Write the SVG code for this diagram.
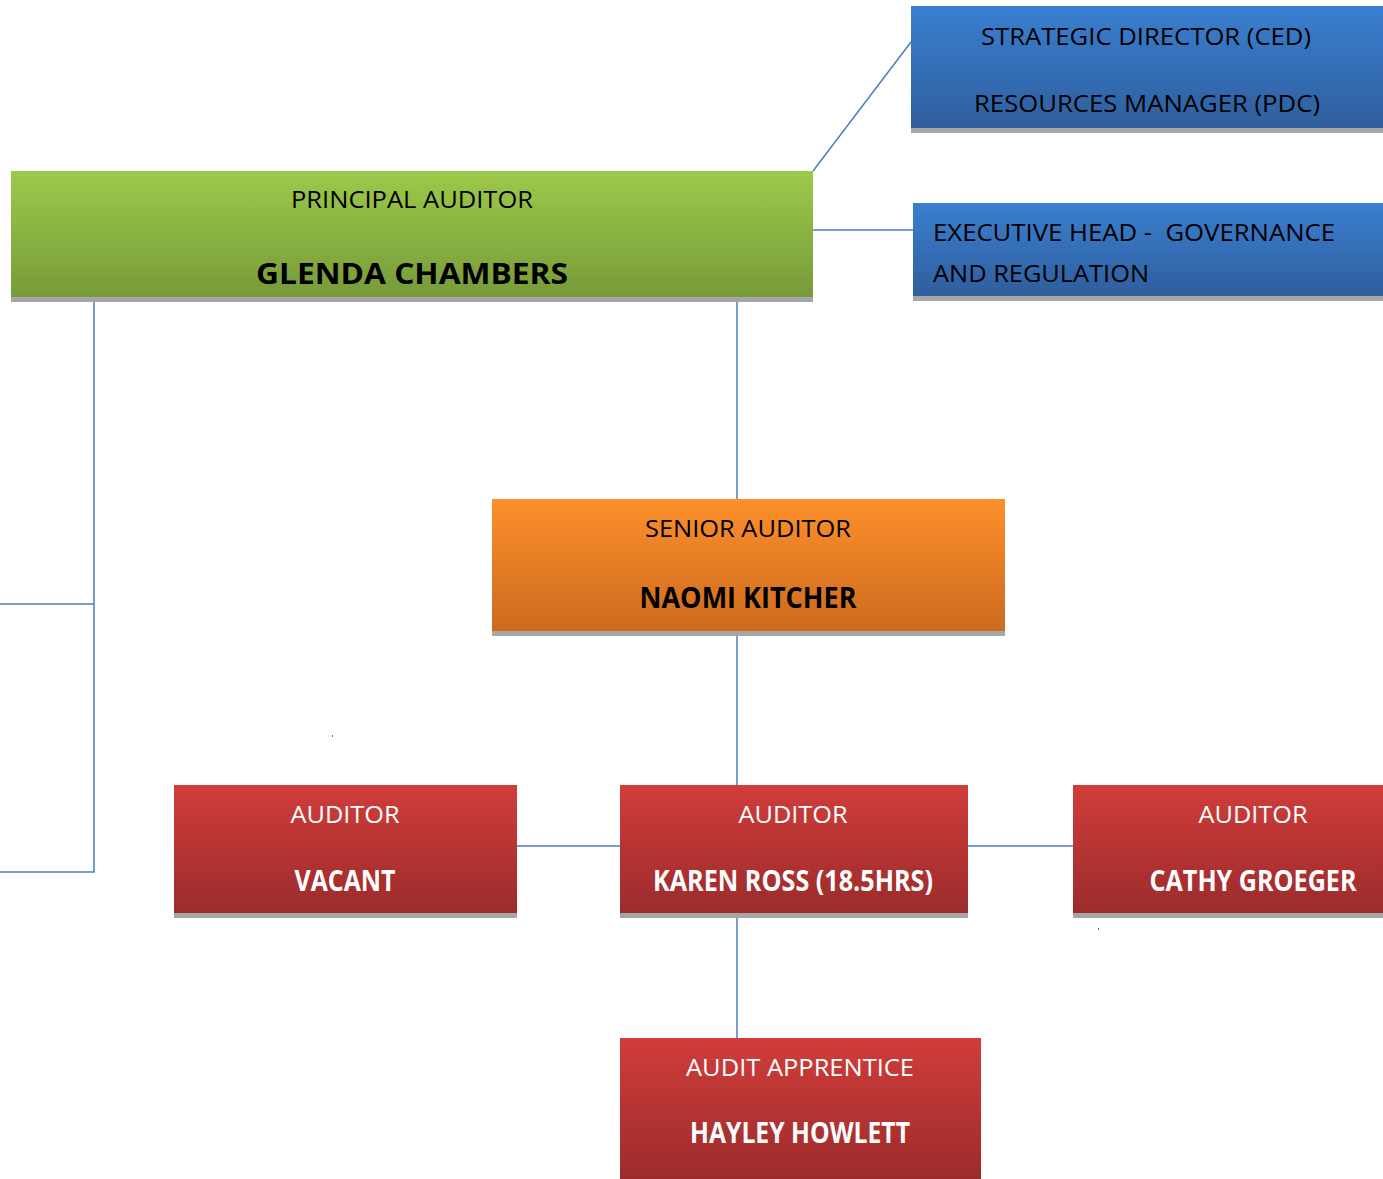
<svg xmlns="http://www.w3.org/2000/svg" width="1383" height="1179" viewBox="0 0 1383 1179">
<style>
text{font-family:"Open Sans","Liberation Sans",sans-serif;text-anchor:middle;white-space:pre}
.r{font-size:24px;fill:#000}
.b{font-size:28px;font-weight:bold;fill:#000}
.w{fill:#fff}
.l{text-anchor:start}
.sh{fill:#a6a6a6}
.cn{stroke:#4a7ebb;stroke-width:1.5;fill:none}
</style>
<defs>
<linearGradient id="gBlue" x1="0" y1="0" x2="0" y2="1"><stop offset="0" stop-color="#3a7fd0"/><stop offset="1" stop-color="#2f5e9d"/></linearGradient>
<linearGradient id="gGreen" x1="0" y1="0" x2="0" y2="1"><stop offset="0" stop-color="#9dc94a"/><stop offset="1" stop-color="#779b39"/></linearGradient>
<linearGradient id="gOrange" x1="0" y1="0" x2="0" y2="1"><stop offset="0" stop-color="#fd902b"/><stop offset="1" stop-color="#cd6a1f"/></linearGradient>
<linearGradient id="gRed" x1="0" y1="0" x2="0" y2="1"><stop offset="0" stop-color="#d03d3a"/><stop offset="1" stop-color="#9c2b2c"/></linearGradient>
</defs>
<rect width="1383" height="1179" fill="#fff"/>
<g id="connectors">
<line class="cn" x1="813" y1="171" x2="911" y2="42"/>
<line class="cn" x1="813" y1="230" x2="913" y2="230"/>
<line class="cn" x1="737" y1="297" x2="737" y2="499"/>
<line class="cn" x1="737" y1="631" x2="737" y2="785"/>
<line class="cn" x1="737" y1="913" x2="737" y2="1038"/>
<line class="cn" x1="517" y1="846" x2="620" y2="846"/>
<line class="cn" x1="968" y1="846" x2="1073" y2="846"/>
<polyline class="cn" points="94,297 94,872 0,872"/>
<line class="cn" x1="0" y1="604" x2="94" y2="604"/>
<rect x="332" y="735" width="1" height="2" fill="#4a7ebb"/>
<rect x="1098" y="928" width="1" height="2" fill="#4a7ebb"/>
</g>
<g id="strategic-director">
<rect class="sh" x="911" y="128" width="472" height="5"/>
<rect x="911" y="6" width="472" height="122" fill="url(#gBlue)"/>
<text class="r" x="1146" y="45" textLength="330" lengthAdjust="spacingAndGlyphs">STRATEGIC DIRECTOR (CED)</text>
<text class="r" x="1147" y="112" textLength="346" lengthAdjust="spacingAndGlyphs">RESOURCES MANAGER (PDC)</text>
</g>
<g id="principal-auditor">
<rect class="sh" x="11" y="297" width="802" height="5"/>
<rect x="11" y="171" width="802" height="126" fill="url(#gGreen)"/>
<text class="r" x="412" y="208" textLength="242" lengthAdjust="spacingAndGlyphs">PRINCIPAL AUDITOR</text>
<text class="b" x="412" y="284" font-size="30" textLength="312" lengthAdjust="spacingAndGlyphs">GLENDA CHAMBERS</text>
</g>
<g id="executive-head">
<rect class="sh" x="913" y="296" width="470" height="5"/>
<rect x="913" y="203" width="470" height="93" fill="url(#gBlue)"/>
<text class="r l" x="933" y="241" textLength="402" lengthAdjust="spacingAndGlyphs">EXECUTIVE HEAD -  GOVERNANCE</text>
<text class="r l" x="933" y="282" textLength="216" lengthAdjust="spacingAndGlyphs">AND REGULATION</text>
</g>
<g id="senior-auditor">
<rect class="sh" x="492" y="631" width="513" height="5"/>
<rect x="492" y="499" width="513" height="132" fill="url(#gOrange)"/>
<text class="r" x="748" y="537" textLength="206" lengthAdjust="spacingAndGlyphs">SENIOR AUDITOR</text>
<text class="b" x="748" y="608" textLength="217" lengthAdjust="spacingAndGlyphs">NAOMI KITCHER</text>
</g>
<g id="auditor-vacant">
<rect class="sh" x="174" y="913" width="343" height="5"/>
<rect x="174" y="785" width="343" height="128" fill="url(#gRed)"/>
<text class="r w" x="345" y="823" textLength="109" lengthAdjust="spacingAndGlyphs">AUDITOR</text>
<text class="b w" x="345" y="891" textLength="101" lengthAdjust="spacingAndGlyphs">VACANT</text>
</g>
<g id="auditor-karen">
<rect class="sh" x="620" y="913" width="348" height="5"/>
<rect x="620" y="785" width="348" height="128" fill="url(#gRed)"/>
<text class="r w" x="793" y="823" textLength="109" lengthAdjust="spacingAndGlyphs">AUDITOR</text>
<text class="b w" x="793" y="891" textLength="280" lengthAdjust="spacingAndGlyphs">KAREN ROSS (18.5HRS)</text>
</g>
<g id="auditor-cathy">
<rect class="sh" x="1073" y="913" width="310" height="5"/>
<rect x="1073" y="785" width="310" height="128" fill="url(#gRed)"/>
<text class="r w" x="1253" y="823" textLength="109" lengthAdjust="spacingAndGlyphs">AUDITOR</text>
<text class="b w" x="1253" y="891" textLength="207" lengthAdjust="spacingAndGlyphs">CATHY GROEGER</text>
</g>
<g id="audit-apprentice">
<rect x="620" y="1038" width="361" height="141" fill="url(#gRed)"/>
<text class="r w" x="800" y="1076" textLength="228" lengthAdjust="spacingAndGlyphs">AUDIT APPRENTICE</text>
<text class="b w" x="800" y="1143" textLength="220" lengthAdjust="spacingAndGlyphs">HAYLEY HOWLETT</text>
</g>
</svg>
